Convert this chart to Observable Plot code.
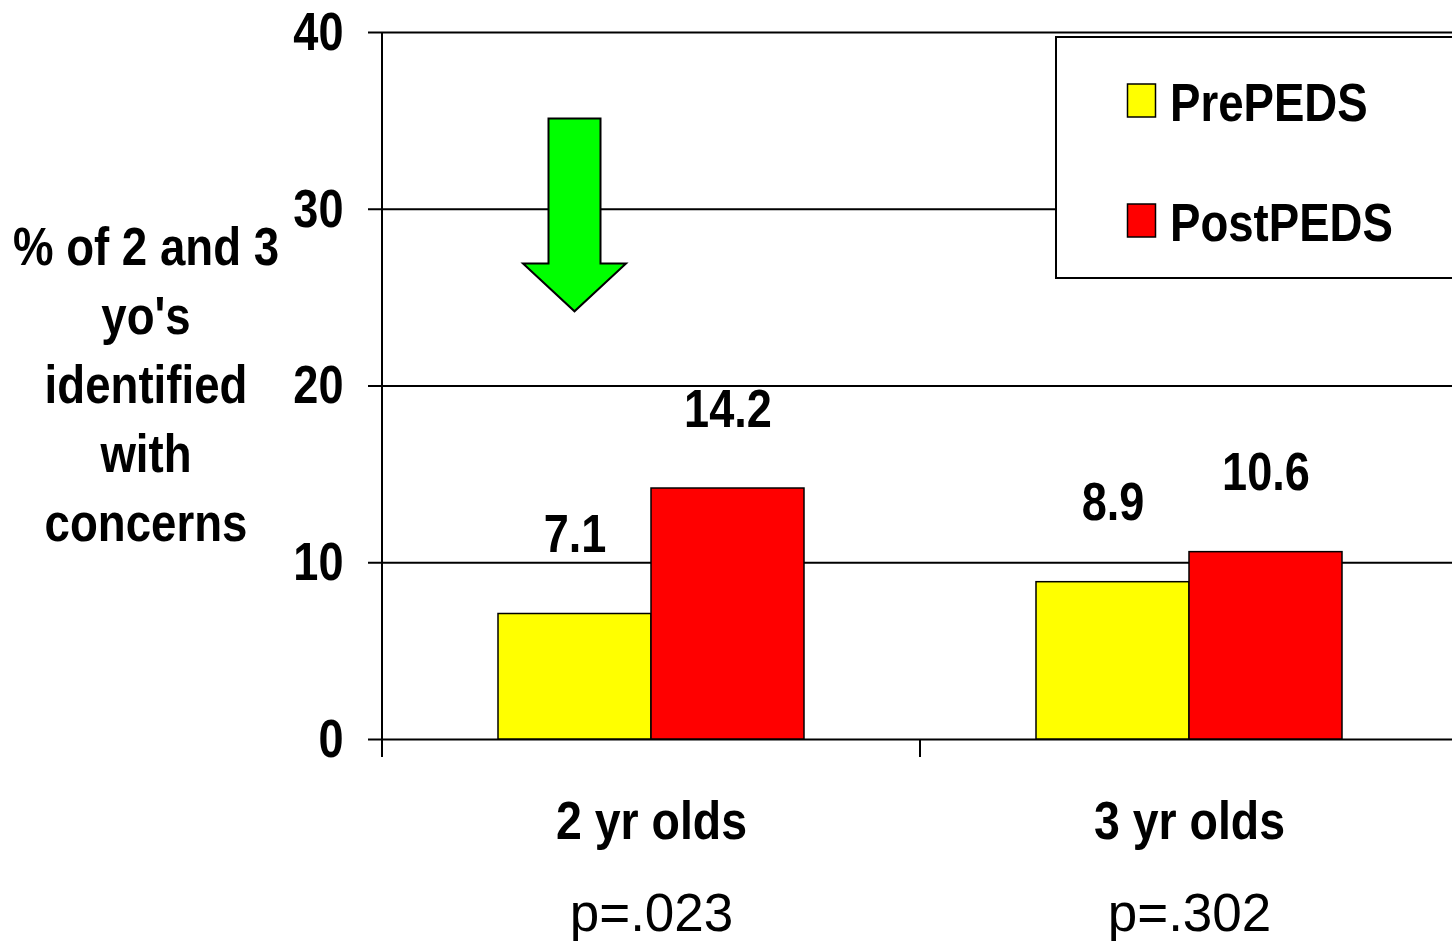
<!DOCTYPE html>
<html>
<head>
<meta charset="utf-8">
<script src="https://cdn.jsdelivr.net/npm/d3@7"></script>
<script src="https://cdn.jsdelivr.net/npm/@observablehq/plot@0.6"></script>
<style>
  html, body { margin: 0; padding: 0; background: white; overflow: hidden; }
  #chart { position: relative; width: 1452px; height: 941px; overflow: hidden; }
  #chart svg { max-width: none !important; }
</style>
</head>
<body>
<div id="chart"></div>
<script>
const ages = ["2 yr olds", "3 yr olds"];
const groups = ["PrePEDS", "PostPEDS"];
const preValues = [7.1, 8.9];
const postValues = [14.2, 10.6];
const pValues = ["p=.023", "p=.302"];
const yTicks = [0, 10, 20, 30, 40];
const yLabelLines = ["% of 2 and 3", "yo's", "identified", "with", "concerns"];
const arrowValues = [35.1, 26.9, 24.2]; // shaft top, head base, tip (in % units)
const groupColors = ["#ffff00", "#ff0000"];

const BOLD = "'Liberation Sans', Arial, sans-serif";
const REGULAR = "'Liberation Sans', Arial, sans-serif";

const data = ages.flatMap((a, i) => [
  {age: a, group: groups[0], value: preValues[i]},
  {age: a, group: groups[1], value: postValues[i]}
]);

const plot = Plot.plot({
  width: 1458,
  height: 941,
  marginLeft: 382,
  marginRight: 0,
  marginTop: 32,
  marginBottom: 202,
  style: {fontFamily: BOLD, background: "white", overflow: "visible", color: "black", maxWidth: "none"},
  fx: {domain: ages, padding: 0},
  x: {domain: groups, paddingInner: 0, paddingOuter: 0.747, axis: null},
  y: {domain: [0, 40]},
  color: {domain: groups, range: groupColors},
  marks: [
    Plot.ruleY(yTicks, {stroke: "black", strokeWidth: 2}),
    Plot.barY(data, {fx: "age", x: "group", y: "value", fill: "group", stroke: "black", strokeWidth: 1.5, inset: 0}),
    Plot.text(data, {fx: "age", x: "group", y: "value", text: d => d.value.toFixed(1), dy: -79, fontSize: 54, fontWeight: "bold"}),
    Plot.axisY({ticks: yTicks, tickSize: 14, tickPadding: 25, fontSize: 54, fontWeight: "bold", label: null, strokeWidth: 2, strokeOpacity: 1, tickFormat: d => String(d)}),
    Plot.axisFx({anchor: "bottom", tickSize: 0, tickPadding: 61, fontSize: 54, fontWeight: "bold", label: null}),
    Plot.axisFx({anchor: "bottom", tickSize: 0, tickPadding: 154, fontSize: 53, fontWeight: "normal", fontFamily: REGULAR, label: null, tickFormat: d => pValues[ages.indexOf(d)]})
  ]
});
plot.style.maxWidth = "none";

document.getElementById("chart").appendChild(plot);

const svg = d3.select(plot);
const fx = plot.scale("fx");
const xs = plot.scale("x");
const ys = plot.scale("y");
const y0 = ys.apply(0);
const yTop = ys.apply(40);

// Axis frame lines: left axis and category separators extending below baseline
ages.forEach((a, i) => {
  const xp = fx.apply(a);
  svg.append("line")
    .attr("x1", xp).attr("x2", xp)
    .attr("y1", i === 0 ? yTop : y0).attr("y2", y0 + 18)
    .attr("stroke", "black").attr("stroke-width", 2);
});

// Green arrow annotation above the 2 yr olds PrePEDS bar
const cx = (fx.apply(ages[0]) - fx.range[0]) + xs.apply(groups[0]) + xs.bandwidth / 2;
const [aTop, aBase, aTip] = arrowValues.map(v => ys.apply(v));
const sw = 26, hw = 51.5;
const pts = [[cx - sw, aTop], [cx + sw, aTop], [cx + sw, aBase], [cx + hw, aBase], [cx, aTip], [cx - hw, aBase], [cx - sw, aBase]];
svg.append("polygon")
  .attr("points", pts.map(p => p.join(",")).join(" "))
  .attr("fill", "#00ff00").attr("stroke", "black").attr("stroke-width", 2);

// Legend
const lg = svg.append("g").attr("text-anchor", "start");
lg.append("rect").attr("x", 1056).attr("y", 37).attr("width", 420).attr("height", 241)
  .attr("fill", "white").attr("stroke", "black").attr("stroke-width", 2);
groups.forEach((g, i) => {
  const top = 84 + i * 120;
  lg.append("rect").attr("x", 1127.5).attr("y", top).attr("width", 28).attr("height", 33)
    .attr("fill", groupColors[i]).attr("stroke", "black").attr("stroke-width", 1.5);
  lg.append("text").attr("class", "wide").attr("x", 1170).attr("y", top + 37).attr("text-anchor", "start").text(g)
    .attr("font-family", BOLD).attr("font-weight", "bold").attr("font-size", 53).attr("fill", "black");
});

// Y axis title
const yl = svg.append("text").attr("class", "ylab").attr("text-anchor", "middle")
  .attr("font-family", BOLD).attr("font-weight", "bold").attr("font-size", 54).attr("fill", "black");
yLabelLines.forEach((t, i) => {
  yl.append("tspan").attr("x", 146).attr("y", 265 + i * 69).text(t);
});

// Condense the bold texts to mimic Arial Narrow Bold
svg.selectAll("text").each(function() {
  if (this.textContent.startsWith("p=")) return;
  const wide = this.classList.contains("wide") || ages.includes(this.textContent);
  const factor = this.classList.contains("ylab") ? 0.845 : (wide ? 0.86 : 0.835);
  const tspans = this.querySelectorAll("tspan");
  const els = tspans.length ? Array.from(tspans) : [this];
  els.forEach(el => {
    const w = el.getComputedTextLength();
    if (w > 0) {
      el.setAttribute("textLength", (w * factor).toFixed(2));
      el.setAttribute("lengthAdjust", "spacingAndGlyphs");
    }
  });
});
</script>
</body>
</html>
